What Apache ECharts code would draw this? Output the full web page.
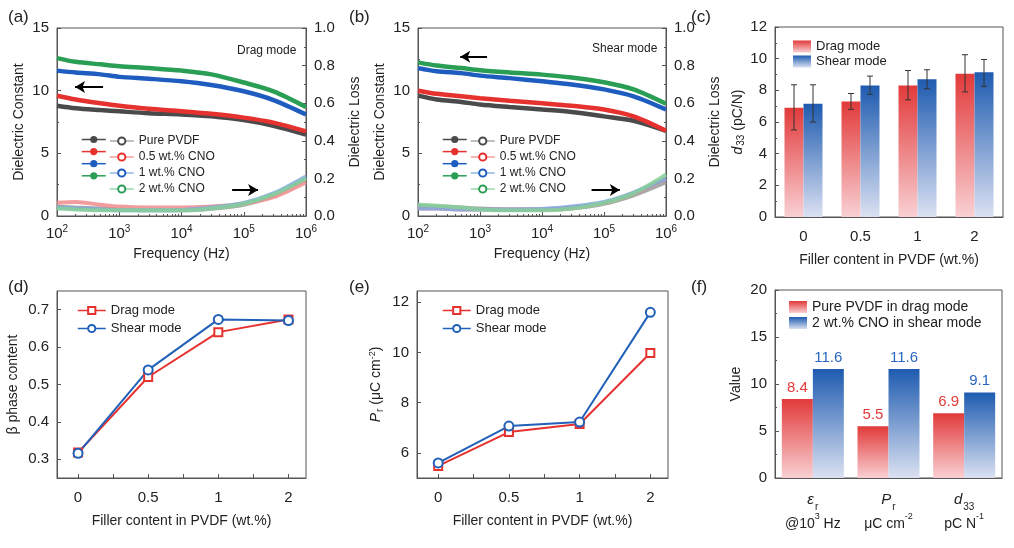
<!DOCTYPE html>
<html>
<head>
<meta charset="utf-8">
<script src="https://cdn.jsdelivr.net/npm/echarts@6/dist/echarts.min.js"></script>
<style>
  html, body { margin: 0; padding: 0; background: #fff; }
  #main { width: 1014px; height: 548px; }
</style>
</head>
<body>
<div id="main"></div>
<script>
// ---- data ----
var freq = [100, 200, 500, 1000, 3000, 10000, 30000, 100000, 300000, 1000000];
var sampleNames = ['Pure PVDF', '0.5 wt.% CNO', '1 wt.% CNO', '2 wt.% CNO'];

// (a) drag mode
var dragEps = [
  [8.8, 8.6, 8.45, 8.35, 8.2, 8.1, 7.95, 7.65, 7.2, 6.5],
  [9.6, 9.3, 9.0, 8.8, 8.55, 8.36, 8.15, 7.85, 7.45, 6.75],
  [11.6, 11.45, 11.3, 11.1, 10.95, 10.75, 10.45, 9.95, 9.25, 8.1],
  [12.6, 12.3, 12.1, 11.95, 11.8, 11.6, 11.3, 10.65, 9.95, 8.7]
];
var dragLoss = [
  [0.05, 0.045, 0.04, 0.035, 0.03, 0.03, 0.038, 0.06, 0.11, 0.2],
  [0.07, 0.075, 0.06, 0.05, 0.045, 0.045, 0.05, 0.065, 0.1, 0.18],
  [0.045, 0.04, 0.035, 0.03, 0.03, 0.032, 0.045, 0.07, 0.12, 0.21],
  [0.04, 0.035, 0.03, 0.03, 0.03, 0.03, 0.04, 0.065, 0.115, 0.2]
];
// (b) shear mode
var shearEps = [
  [9.6, 9.3, 9.1, 8.9, 8.7, 8.5, 8.3, 7.95, 7.6, 6.8],
  [10.0, 9.75, 9.55, 9.4, 9.2, 9.0, 8.8, 8.5, 7.95, 6.8],
  [11.8, 11.55, 11.4, 11.2, 11.0, 10.75, 10.5, 10.1, 9.55, 8.5],
  [12.26, 12.0, 11.8, 11.63, 11.45, 11.28, 11.05, 10.67, 10.1, 8.95]
];
var shearLoss = [
  [0.055, 0.05, 0.045, 0.04, 0.035, 0.035, 0.04, 0.065, 0.11, 0.18],
  [0.04, 0.04, 0.035, 0.035, 0.035, 0.035, 0.045, 0.07, 0.12, 0.2],
  [0.04, 0.04, 0.035, 0.035, 0.035, 0.037, 0.05, 0.075, 0.125, 0.2],
  [0.06, 0.055, 0.045, 0.035, 0.03, 0.03, 0.04, 0.07, 0.12, 0.22]
];

// (c) d33
var fillerLabels = ['0', '0.5', '1', '2'];
var d33Drag = [6.9, 7.3, 8.3, 9.05];
var d33DragLow = [5.5, 6.8, 7.4, 7.9];
var d33DragHigh = [8.35, 7.8, 9.25, 10.25];
var d33Shear = [7.15, 8.3, 8.7, 9.15];
var d33ShearLow = [6.0, 7.75, 8.1, 8.25];
var d33ShearHigh = [8.35, 8.9, 9.3, 9.95];

// (d) beta phase, (e) Pr
var fillerPos = [0, 1, 2, 3];
var betaDrag = [0.318, 0.52, 0.64, 0.674];
var betaShear = [0.316, 0.539, 0.674, 0.671];
var prDrag = [5.48, 6.83, 7.15, 9.98];
var prShear = [5.6, 7.07, 7.23, 11.6];

// (f) comparison
var metricLabels = [
  '{it|ε}{sub|r}\n{n|@10}{sup|3}{n| Hz}',
  '{it|P}{sub|r}\n{n|μC cm}{sup|-2}',
  '{it|d}{sub|33}\n{n|pC N}{sup|-1}'
];
var pureDrag = [8.4, 5.5, 6.9];
var cnoShear = [11.6, 11.6, 9.1];

// ---- styling ----
var FONT = 'Liberation Sans, Arial, sans-serif';
var AX = '#555';
var TXT = '#222';
var lineColors = ['#4a4a4a', '#e6322f', '#1f5cbf', '#2a9e55'];
var lossColors = ['#9a9a9a', '#f08c8c', '#7fa8e0', '#86cf99'];

function grad(top, bottom) {
  return new echarts.graphic.LinearGradient(0, 0, 0, 1, [
    { offset: 0, color: top }, { offset: 1, color: bottom }
  ]);
}
var redGrad = grad('#e23a3a', '#f9d0d3');
var blueGrad = grad('#1e5bb0', '#dbe1f2');

var supRich = {
  n: { fontSize: 15, fontFamily: FONT, color: TXT },
  sup: { fontSize: 10, fontFamily: FONT, color: TXT, verticalAlign: 'top', padding: [0, 0, 9, 0] }
};

function logAxis(gi) {
  return {
    type: 'log', gridIndex: gi, min: 100, max: 1000000, logBase: 10,
    name: 'Frequency (Hz)', nameLocation: 'middle', nameGap: 31,
    nameTextStyle: { fontSize: 14, fontFamily: FONT, color: TXT },
    axisLine: { lineStyle: { color: AX } },
    axisTick: { inside: true, length: 4, lineStyle: { color: AX } },
    minorTick: { show: true, splitNumber: 9, length: 2, lineStyle: { color: AX } },
    splitLine: { show: false }, minorSplitLine: { show: false },
    axisLabel: {
      margin: 8,
      formatter: function (v) { return '{n|10}{sup|' + Math.round(Math.log10(v)) + '}'; },
      rich: supRich
    }
  };
}

function valAxis(gi, opt) {
  var base = {
    type: 'value', gridIndex: gi,
    nameLocation: 'middle',
    nameTextStyle: { fontSize: 14, fontFamily: FONT, color: TXT },
    axisLine: { show: true, onZero: false, lineStyle: { color: AX } },
    axisTick: { show: true, inside: true, length: 4, lineStyle: { color: AX } },
    minorTick: { show: true, splitNumber: 2, length: 2, lineStyle: { color: AX } },
    splitLine: { show: false },
    axisLabel: { fontSize: 15, fontFamily: FONT, color: TXT }
  };
  return Object.assign(base, opt);
}

function catAxis(gi, data) {
  return {
    type: 'category', gridIndex: gi, data: data,
    name: 'Filler content in PVDF (wt.%)', nameLocation: 'middle', nameGap: 36,
    nameTextStyle: { fontSize: 14, fontFamily: FONT, color: TXT },
    axisLine: { lineStyle: { color: AX } },
    axisTick: { inside: true, length: 4, lineStyle: { color: AX } },
    axisLabel: { fontSize: 15, fontFamily: FONT, color: TXT, margin: 12 }
  };
}

function posAxis(gi) {
  return {
    type: 'value', gridIndex: gi, min: -0.3, max: 3.25,
    name: 'Filler content in PVDF (wt.%)', nameLocation: 'middle', nameGap: 36,
    nameTextStyle: { fontSize: 14, fontFamily: FONT, color: TXT },
    axisLine: { onZero: false, lineStyle: { color: AX } },
    axisTick: { inside: true, length: 4, customValues: [0, 0.5, 1, 1.5, 2, 2.5, 3], lineStyle: { color: AX } },
    splitLine: { show: false },
    axisLabel: {
      fontSize: 15, fontFamily: FONT, color: TXT, margin: 12,
      customValues: fillerPos,
      formatter: function (v) { return fillerLabels[Math.round(v)]; }
    }
  };
}

function pairs(xs, ys) { return xs.map(function (x, i) { return [x, ys[i]]; }); }

var series = [];

function dielectricPanel(gi, yi, epsSet, lossSet, leftArrow, rightArrow, tag) {
  for (var k = 0; k < 4; k++) {
    series.push({
      name: tag + 'eps ' + sampleNames[k], type: 'line', xAxisIndex: gi, yAxisIndex: yi,
      data: pairs(freq, epsSet[k]), symbol: 'circle', showSymbol: false, smooth: 0.3,
      lineStyle: { width: 4.5, color: lineColors[k] }, itemStyle: { color: lineColors[k] },
      z: 3,
      markLine: k === 0 ? {
        silent: true, symbol: ['none', 'arrow'], symbolSize: [9, 10],
        label: { show: false }, lineStyle: { color: '#000', width: 2, type: 'solid' },
        data: [[{ coord: leftArrow[0] }, { coord: leftArrow[1] }]]
      } : undefined
    });
    series.push({
      name: tag + 'loss ' + sampleNames[k], type: 'line', xAxisIndex: gi, yAxisIndex: yi + 1,
      data: pairs(freq, lossSet[k]), symbol: 'emptyCircle', showSymbol: false, smooth: 0.3,
      lineStyle: { width: 4, color: lossColors[k], opacity: 0.85 }, itemStyle: { color: lineColors[k] },
      z: 2,
      markLine: k === 0 ? {
        silent: true, symbol: ['none', 'arrow'], symbolSize: [9, 10],
        label: { show: false }, lineStyle: { color: '#000', width: 2, type: 'solid' },
        data: [[{ coord: rightArrow[0] }, { coord: rightArrow[1] }]]
      } : undefined
    });
  }
}

dielectricPanel(0, 0, dragEps, dragLoss,
  [[550, 10.3], [195, 10.3]], [[65000, 0.138], [170000, 0.138]], 'a');
dielectricPanel(1, 2, shearEps, shearLoss,
  [[1300, 12.7], [480, 12.7]], [[63000, 0.138], [180000, 0.138]], 'b');

function legendFor(tag, kind) {
  return sampleNames.map(function (s) { return tag + kind + ' ' + s; });
}
function stripTag(n) { return n.replace(/^\S+ /, ''); }

// (c) bars + error bars
function errRender(offset) {
  return function (params, api) {
    var lo = api.coord([api.value(0), api.value(1)]);
    var hi = api.coord([api.value(0), api.value(2)]);
    var cx = lo[0] + offset, cap = 3;
    var st = { stroke: '#333', lineWidth: 1 };
    return {
      type: 'group', children: [
        { type: 'line', shape: { x1: cx, y1: lo[1], x2: cx, y2: hi[1] }, style: st },
        { type: 'line', shape: { x1: cx - cap, y1: lo[1], x2: cx + cap, y2: lo[1] }, style: st },
        { type: 'line', shape: { x1: cx - cap, y1: hi[1], x2: cx + cap, y2: hi[1] }, style: st }
      ]
    };
  };
}
function errData(lo, hi) { return lo.map(function (v, i) { return [i, v, hi[i]]; }); }

series.push(
  { name: 'c Drag mode', type: 'bar', xAxisIndex: 2, yAxisIndex: 4, data: d33Drag,
    barWidth: 19, barGap: '0%', itemStyle: { color: redGrad } },
  { name: 'c Shear mode', type: 'bar', xAxisIndex: 2, yAxisIndex: 4, data: d33Shear,
    barWidth: 19, barGap: '0%', itemStyle: { color: blueGrad } },
  { type: 'custom', xAxisIndex: 2, yAxisIndex: 4, data: errData(d33DragLow, d33DragHigh),
    renderItem: errRender(-9.5), z: 10, silent: true },
  { type: 'custom', xAxisIndex: 2, yAxisIndex: 4, data: errData(d33ShearLow, d33ShearHigh),
    renderItem: errRender(9.5), z: 10, silent: true }
);

// (d), (e) lines
function modeLines(tag, xi, yi, drag, shear) {
  series.push(
    { name: tag + ' Drag mode', type: 'line', xAxisIndex: xi, yAxisIndex: yi, data: pairs(fillerPos, drag),
      symbol: 'emptyRect', symbolSize: 8, lineStyle: { width: 2, color: '#e6322f' },
      itemStyle: { color: '#e6322f', borderWidth: 1.2 } },
    { name: tag + ' Shear mode', type: 'line', xAxisIndex: xi, yAxisIndex: yi, data: pairs(fillerPos, shear),
      symbol: 'emptyCircle', symbolSize: 9, lineStyle: { width: 2, color: '#2160b8' },
      itemStyle: { color: '#2160b8', borderWidth: 1.2 } }
  );
}
modeLines('d', 3, 5, betaDrag, betaShear);
modeLines('e', 4, 6, prDrag, prShear);

// (f) comparison bars
series.push(
  { name: 'f Pure PVDF in drag mode', type: 'bar', xAxisIndex: 5, yAxisIndex: 7, data: pureDrag,
    barWidth: 31, barGap: '0%', itemStyle: { color: redGrad },
    label: { show: true, position: 'top', distance: 4, color: '#e23a3a', fontSize: 15, fontFamily: FONT } },
  { name: 'f 2 wt.% CNO in shear mode', type: 'bar', xAxisIndex: 5, yAxisIndex: 7, data: cnoShear,
    barWidth: 31, barGap: '0%', itemStyle: { color: blueGrad },
    label: { show: true, position: 'top', distance: 4, color: '#2a66c0', fontSize: 15, fontFamily: FONT } }
);

var panelTitle = function (txt, x, y) {
  return { text: txt, left: x, top: y, textStyle: { fontSize: 17, fontWeight: 'normal', fontFamily: FONT, color: TXT } };
};
var noteTitle = function (txt, x, y) {
  return { text: txt, left: x, top: y, textStyle: { fontSize: 12, fontWeight: 'normal', fontFamily: FONT, color: TXT } };
};

var legendText = { fontSize: 12, fontFamily: FONT, color: TXT };
function iconLegend(x, names) {
  return { left: x, top: 130, orient: 'vertical', itemWidth: 24, itemHeight: 9, itemGap: 4,
    data: names, formatter: function () { return ''; },
    lineStyle: { width: 1.5 }, textStyle: legendText, selectedMode: false };
}
function textLegend(x, y, names, size, iw, ih, gap, icon) {
  var l = { left: x, top: y, orient: 'vertical', itemWidth: iw, itemHeight: ih, itemGap: gap,
    data: names, formatter: stripTag, lineStyle: { width: 1.5 },
    textStyle: { fontSize: size, fontFamily: FONT, color: TXT }, selectedMode: false };
  if (icon) l.icon = icon;
  return l;
}

var option = {
  animation: false,
  backgroundColor: '#fff',
  textStyle: { fontFamily: FONT },
  title: [
    panelTitle('(a)', 3, 4), panelTitle('(b)', 344, 4), panelTitle('(c)', 686, 4),
    panelTitle('(d)', 3, 274), panelTitle('(e)', 344, 274), panelTitle('(f)', 686, 274),
    noteTitle('Drag mode', 232, 40), noteTitle('Shear mode', 587, 38)
  ],
  grid: [
    { left: 57, top: 28, width: 249, height: 188, show: true, borderColor: AX },
    { left: 418, top: 28, width: 248, height: 188, show: true, borderColor: AX },
    { left: 775, top: 27, width: 228, height: 190, show: true, borderColor: AX },
    { left: 57, top: 291, width: 249, height: 187, show: true, borderColor: AX },
    { left: 417, top: 291, width: 251, height: 187, show: true, borderColor: AX },
    { left: 775, top: 290, width: 227, height: 188, show: true, borderColor: AX }
  ],
  legend: [
    iconLegend(76, legendFor('a', 'eps')),
    textLegend(104, 130, legendFor('a', 'loss'), 12, 24, 9, 4),
    iconLegend(437, legendFor('b', 'eps')),
    textLegend(465, 130, legendFor('b', 'loss'), 12, 24, 9, 4),
    textLegend(788, 35, ['c Drag mode', 'c Shear mode'], 13, 18, 12, 2, 'rect'),
    textLegend(72, 299, ['d Drag mode', 'd Shear mode'], 13, 28, 9, 5),
    textLegend(437, 299, ['e Drag mode', 'e Shear mode'], 13, 28, 9, 5),
    textLegend(784, 295, ['f Pure PVDF in drag mode', 'f 2 wt.% CNO in shear mode'], 14, 18, 12, 2, 'rect')
  ],
  xAxis: [
    logAxis(0),
    logAxis(1),
    catAxis(2, fillerLabels),
    posAxis(3),
    posAxis(4),
    {
      type: 'category', gridIndex: 5, data: metricLabels,
      axisLine: { lineStyle: { color: AX } },
      axisTick: { inside: true, length: 4, lineStyle: { color: AX } },
      axisLabel: {
        margin: 10, lineHeight: 24, interval: 0,
        rich: {
          it: { fontSize: 15, fontStyle: 'italic', fontFamily: FONT, color: TXT },
          sub: { fontSize: 10, fontFamily: FONT, color: TXT, verticalAlign: 'bottom', padding: [6, 0, 0, 1] },
          n: { fontSize: 14, fontFamily: FONT, color: TXT },
          sup: { fontSize: 9, fontFamily: FONT, color: TXT, verticalAlign: 'top', padding: [0, 0, 9, 0] }
        }
      }
    }
  ],
  yAxis: [
    valAxis(0, { min: 0, max: 15, interval: 5, name: 'Dielectric Constant', nameGap: 31 }),
    valAxis(0, { min: 0, max: 1, interval: 0.2, position: 'right', name: 'Dielectric Loss', nameGap: 42,
      axisLabel: { fontSize: 15, fontFamily: FONT, color: TXT, formatter: function (v) { return v.toFixed(1); } } }),
    valAxis(1, { min: 0, max: 15, interval: 5, name: 'Dielectric Constant', nameGap: 31 }),
    valAxis(1, { min: 0, max: 1, interval: 0.2, position: 'right', name: 'Dielectric Loss', nameGap: 42,
      axisLabel: { fontSize: 15, fontFamily: FONT, color: TXT, formatter: function (v) { return v.toFixed(1); } } }),
    valAxis(2, { min: 0, max: 12, interval: 2, name: '{it|d}{sub|33}{n| (pC/N)}', nameGap: 29,
      nameTextStyle: { rich: {
        it: { fontSize: 14, fontStyle: 'italic', fontFamily: FONT, color: TXT },
        sub: { fontSize: 10, fontFamily: FONT, color: TXT, verticalAlign: 'bottom', padding: [6, 0, 0, 1] },
        n: { fontSize: 14, fontFamily: FONT, color: TXT } } } }),
    valAxis(3, { min: 0.25, max: 0.75, name: 'β phase content', nameGap: 37,
      axisTick: { inside: true, length: 4, customValues: [0.3, 0.4, 0.5, 0.6, 0.7], lineStyle: { color: AX } },
      minorTick: { show: false },
      axisLabel: { fontSize: 15, fontFamily: FONT, color: TXT, customValues: [0.3, 0.4, 0.5, 0.6, 0.7],
        formatter: function (v) { return v.toFixed(1); } } }),
    valAxis(4, { min: 5, max: 12.45, name: '{it|P}{sub|r}{n| (μC cm}{sup|-2}{n|)}', nameGap: 32,
      axisTick: { inside: true, length: 4, customValues: [6, 8, 10, 12], lineStyle: { color: AX } },
      minorTick: { show: false },
      axisLabel: { fontSize: 15, fontFamily: FONT, color: TXT, customValues: [6, 8, 10, 12] },
      nameTextStyle: { rich: {
        it: { fontSize: 14, fontStyle: 'italic', fontFamily: FONT, color: TXT },
        sub: { fontSize: 10, fontFamily: FONT, color: TXT, verticalAlign: 'bottom', padding: [6, 0, 0, 1] },
        n: { fontSize: 14, fontFamily: FONT, color: TXT },
        sup: { fontSize: 9, fontFamily: FONT, color: TXT, verticalAlign: 'top', padding: [0, 0, 8, 0] } } } }),
    valAxis(5, { min: 0, max: 20, interval: 5, name: 'Value', nameGap: 32 })
  ],
  series: series
};

var chart = echarts.init(document.getElementById('main'));
chart.setOption(option);
</script>
</body>
</html>
